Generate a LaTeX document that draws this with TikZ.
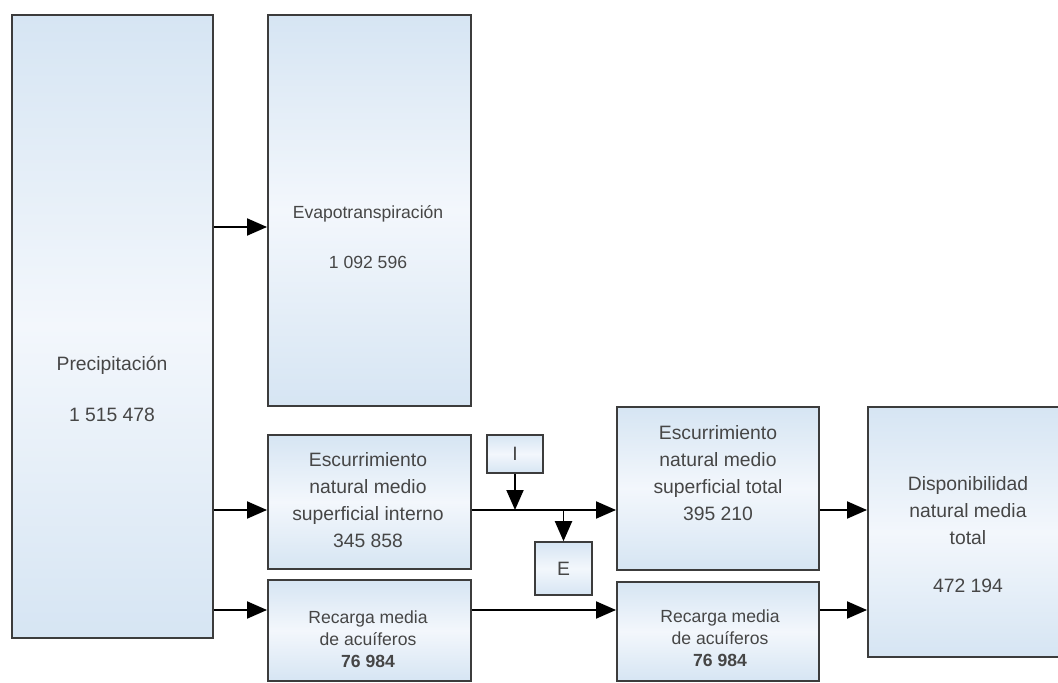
\documentclass[tikz,border=0pt]{standalone}
\usepackage{fontspec}
\setmainfont{Liberation Sans}
\usetikzlibrary{arrows.meta}

\definecolor{azulcaja}{RGB}{214,229,243}
\definecolor{azulclaro}{RGB}{243,247,252}
\definecolor{bordecaja}{RGB}{60,60,60}
\definecolor{textocaja}{RGB}{70,70,70}

\tikzset{
  caja/.style={draw=bordecaja, line width=1.1pt, top color=azulcaja, bottom color=azulcaja, middle color=azulclaro, inner sep=0pt},
  cajita/.style={caja, line width=0.9pt, text=textocaja, font=\fontsize{11}{13}\selectfont},
  texto/.style={text=textocaja, align=center, font=\fontsize{11}{15.3}\selectfont, inner sep=0pt},
  textochico/.style={texto, font=\fontsize{10}{12.5}\selectfont},
  flecha/.style={-{Triangle[length=0.4cm,width=0.34cm]}, line width=1.1pt}
}

\begin{document}
\begin{tikzpicture}
\useasboundingbox (0,0) rectangle (21.16,-13.66);
% cajas
\node[caja, minimum width=4.02cm, minimum height=12.46cm] (precip) at (2.25,-6.53) {};
\node[caja, minimum width=4.06cm, minimum height=7.82cm] (evapo) at (7.39,-4.21) {};
\node[caja, minimum width=4.06cm, minimum height=2.68cm] (escint) at (7.39,-10.04) {};
\node[caja, minimum width=4.06cm, minimum height=2.02cm] (recint) at (7.39,-12.61) {};
\node[cajita, minimum width=1.12cm, minimum height=0.76cm] (I) at (10.3,-9.08) {I};
\node[cajita, minimum width=1.14cm, minimum height=1.06cm] (E) at (11.27,-11.37) {E};
\node[caja, minimum width=4.04cm, minimum height=3.26cm] (esctot) at (14.36,-9.77) {};
\node[caja, minimum width=4.04cm, minimum height=1.98cm] (rectot) at (14.36,-12.63) {};
\node[caja, minimum width=4.0cm, minimum height=5.0cm] (disp) at (19.36,-10.64) {};

% textos
\node[texto] (precip-t) at (2.24,-7.78) {Precipitación\\[14pt]1 515 478};
\node[textochico] (evapo-t) at (7.36,-4.74) {Evapotranspiración\\[16pt]1 092 596};
\node[texto] (escint-t) at (7.36,-10.0) {Escurrimiento\\natural medio\\superficial interno\\345 858};
\node[textochico] (recint-t) at (7.36,-12.78) {Recarga media\\de acuíferos\\\textbf{76 984}};
\node[texto] (esctot-t) at (14.36,-9.46) {Escurrimiento\\natural medio\\superficial total\\395 210};
\node[textochico] (rectot-t) at (14.4,-12.76) {Recarga media\\de acuíferos\\\textbf{76 984}};
\node[texto] (disp-t) at (19.36,-10.69) {Disponibilidad\\natural media\\total\\[12pt]472 194};

% filas de flechas
\coordinate (fila1) at (0,-4.54);
\coordinate (fila2) at (0,-10.2);
\coordinate (fila3) at (0,-12.2);

\draw[flecha] (precip.east |- fila1) -- (evapo.west |- fila1);
\draw[flecha] (precip.east |- fila2) -- (escint.west |- fila2);
\draw[flecha] (precip.east |- fila3) -- (recint.west |- fila3);
\draw[flecha] (escint.east |- fila2) -- (esctot.west |- fila2);
\draw[flecha] (I) -- (I |- fila2);
\draw[flecha] (E |- fila2) -- (E);
\draw[flecha] (recint.east |- fila3) -- (rectot.west |- fila3);
\draw[flecha] (esctot.east |- fila2) -- (disp.west |- fila2);
\draw[flecha] (rectot.east |- fila3) -- (disp.west |- fila3);
\end{tikzpicture}
\end{document}
